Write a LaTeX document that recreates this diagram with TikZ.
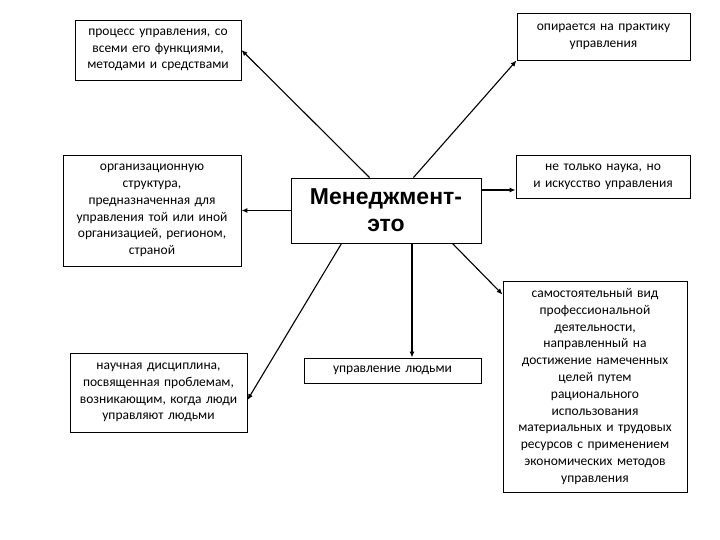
\documentclass[tikz,border=0pt]{standalone}
\usepackage{fontspec}
\setmainfont{Carlito}
\newfontfamily\arialfont{Liberation Sans}
\usetikzlibrary{arrows.meta}
\begin{document}
\begin{tikzpicture}[x=1pt,y=-1pt,
  box/.style={draw=black,line width=0.9pt,inner sep=2pt,align=center,
    font=\fontsize{13.5}{16.8}\selectfont},
  conn/.style={line width=1.1pt,-{Latex[length=6pt,width=5pt]}}]
\useasboundingbox (0,0) rectangle (720,540);
\node[box,minimum width=166pt,minimum height=60pt,text width=162pt] (b1) at (158,50)
  {процесс управления, со\\всеми его функциями,\\методами и средствами};
\node[box,minimum width=173pt,minimum height=47pt,text width=169pt] (b2) at (603.5,36.5)
  {опирается на практику\\управления};
\node[box,minimum width=178pt,minimum height=111pt,text width=174pt] (b3) at (152,210.5)
  {организационную\\структура,\\предназначенная для\\управления той или иной\\организацией, регионом,\\страной};
\node[draw=black,line width=0.9pt,minimum width=190pt,minimum height=65pt,align=center,
  font=\arialfont\bfseries\fontsize{23}{27}\selectfont] (c) at (386,210.5)
  {Менеджмент-\\это};
\node[box,minimum width=174pt,minimum height=43pt,text width=170pt] (b5) at (603,176.5)
  {не только наука, но\\и искусство управления};
\node[box,minimum width=177pt,minimum height=79pt,text width=173pt] (b6) at (158.5,392.5)
  {научная дисциплина,\\посвященная проблемам,\\возникающим, когда люди\\управляют людьми};
\node[box,minimum width=177pt,minimum height=25pt,text width=173pt] (b7) at (392.5,370.5)
  {управление людьми};
\node[box,minimum width=184pt,minimum height=211pt,text width=180pt] (b8) at (595,386.5)
  {самостоятельный вид\\профессиональной\\деятельности,\\направленный на\\достижение намеченных\\целей путем\\рационального\\использования\\материальных и трудовых\\ресурсов с применением\\экономических методов\\управления};
\coordinate (p5) at ([yshift=-13.5pt]b5.west);
\coordinate (p7) at ([xshift=26pt]c.south);
\draw[conn] ([xshift=79pt]c.north west) -- (b1.east);
\draw[conn] ([xshift=-68pt]c.north east) -- (b2.south west);
\draw[conn] (c.west) -- (b3.east);
\draw[conn] (c.east |- p5) -- (p5);
\draw[conn] ([xshift=51pt]c.south west) -- ([yshift=-7.5pt]b6.east);
\draw[conn] (p7) -- (p7 |- b7.north);
\draw[conn] ([xshift=-29pt]c.south east) -- ([yshift=-14pt]b8.north west);
\end{tikzpicture}
\end{document}
